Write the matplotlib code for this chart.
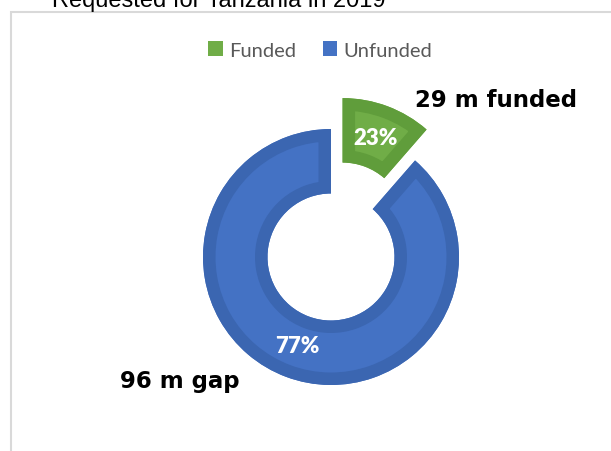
import matplotlib
matplotlib.use("Agg")
import matplotlib.pyplot as plt
from matplotlib.patches import Patch, PathPatch

# data
categories = ['Funded', 'Unfunded']
amounts_m = [29, 96]
pct_labels = ['23%', '77%']
wedge_share = [11.4, 88.6]   # slice sizes as they are drawn
callouts = ['29 m funded', '96 m gap']
title = 'Requested for Tanzania in 2019'

fills = ['#70AD47', '#4472C4']
edges = ['#609D3B', '#3B66B1']

W, H = 611, 452
fig = plt.figure(figsize=(W / 100, H / 100), dpi=100)
ax = fig.add_axes([0, 0, 1, 1])

# pie offsets wedges by explode in data units, so 33 px here
wedges, texts = ax.pie(wedge_share, labels=pct_labels, colors=fills,
                       startangle=90, counterclock=False,
                       explode=[33, 0], center=(331, 194), radius=128,
                       labeldistance=0.74,
                       wedgeprops=dict(width=64.5, linewidth=0))
ax.set_xlim(0, W)
ax.set_ylim(0, H)
ax.set_aspect('auto')
ax.axis('off')

# darker inner border: stroke a copy of each wedge, clipped to the wedge
for w, ec in zip(wedges, edges):
    border = PathPatch(w.get_path(), facecolor='none', edgecolor=ec,
                       linewidth=18, joinstyle='miter',
                       transform=w.get_transform(), zorder=w.get_zorder() + 0.1)
    ax.add_patch(border)
    border.set_clip_path(w.get_path(), w.get_transform())

for t in texts:
    t.set_ha('center')
    t.set_va('center')
    t.set_color('white')
    t.set_fontsize(16)
    t.set_fontweight('heavy')
    t.set_family(['Lato', 'DejaVu Sans'])
    t.set_zorder(5)

# callouts
ax.text(415, H - 107, callouts[0], fontsize=16.5, fontweight='bold',
        family='DejaVu Sans', va='baseline', ha='left')
ax.text(120, H - 388, callouts[1], fontsize=16.5, fontweight='bold',
        family='DejaVu Sans', va='baseline', ha='left')

# chart frame
ax.plot([11, 11, W + 5], [-5, H - 13, H - 13], color='#D9D9D9', lw=1.5,
        clip_on=False, solid_joinstyle='miter')

# title (cut off by the top edge)
ax.text(52, H - 7, title, fontsize=17, family='Liberation Sans',
        color='#000000', va='baseline', ha='left', clip_on=False)

handles = [Patch(facecolor=c, edgecolor='none') for c in fills]
ax.legend(handles, categories, loc='center', bbox_to_anchor=(320, H - 51),
          bbox_transform=ax.transData, ncol=2, frameon=False,
          prop={'family': 'Lato', 'size': 14.5}, labelcolor='#595959',
          handlelength=0.72, handleheight=0.72, handletextpad=0.3,
          columnspacing=1.34, borderpad=0)

fig.savefig('out.png', dpi=100)
